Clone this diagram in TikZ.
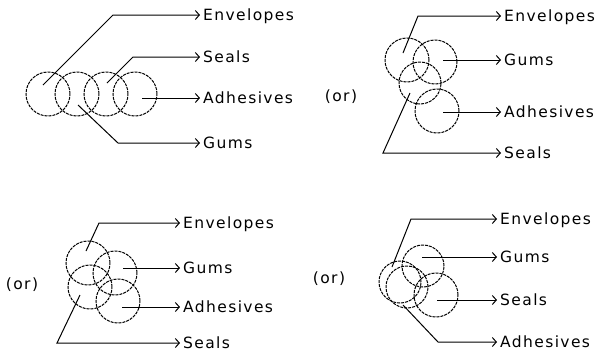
\documentclass[tikz,border=0pt]{standalone}
\usepackage{fontspec}
\setmainfont{DejaVu Sans}[LetterSpace=9]
\usetikzlibrary{arrows.meta}
\tikzset{
  ring/.style={draw, circle, minimum size=#1, inner sep=0pt, line width=1pt, dash pattern=on 3pt off 1pt},
  lbl/.style={anchor=west, inner xsep=3pt, inner ysep=0pt, text height=11.2pt, text depth=0pt, font=\fontsize{15.5}{18}\selectfont},
  orl/.style={inner sep=0pt, font=\fontsize{15.5}{18}\selectfont},
  lead/.style={draw, line width=1pt, -{Straight Barb[length=4pt,width=9pt,line width=1pt]}}
}
\begin{document}
\begin{tikzpicture}[x=1pt,y=-1pt]
\useasboundingbox (0,0) rectangle (600,354);
% ---------- panel 1 ----------
\node[ring=44pt] (a1) at (48,94) {};
\node[ring=44pt] (a2) at (77,94) {};
\node[ring=44pt] (a3) at (106,94) {};
\node[ring=44pt] (a4) at (135,94) {};
\node[lbl] (aE) at (200,15) {Envelopes};
\node[lbl] (aS) at (200,57) {Seals};
\node[lbl] (aA) at (200,98) {Adhesives};
\node[lbl] (aG) at (200,143) {Gums};
\coordinate (aEs) at (43,85);  \coordinate (aEb) at (113,15);
\coordinate (aSs) at (107,83); \coordinate (aSb) at (133,57);
\coordinate (aAs) at (142,98);
\coordinate (aGs) at (78,105); \coordinate (aGb) at (118,143);
\draw[lead] (aEs) -- (aEb) -- (aE.west);
\draw[lead] (aSs) -- (aSb) -- (aS.west);
\draw[lead] (aAs) -- (aA.west);
\draw[lead] (aGs) -- (aGb) -- (aG.west);
% ---------- panel 2 ----------
\node[orl] (bor) at (341,97) {(or)};
\node[ring=44pt] (b1) at (407,60) {};
\node[ring=44pt] (b2) at (435,62) {};
\node[ring=42pt] (b3) at (420,83) {};
\node[ring=44pt] (b4) at (437,111) {};
\node[lbl] (bE) at (501,16) {Envelopes};
\node[lbl] (bG) at (501,60) {Gums};
\node[lbl] (bA) at (501,112) {Adhesives};
\node[lbl] (bS) at (501,153) {Seals};
\coordinate (bEs) at (403,53); \coordinate (bEb) at (418,16);
\coordinate (bGs) at (443,60);
\coordinate (bAs) at (443,112);
\coordinate (bSs) at (410,93); \coordinate (bSb) at (383,153);
\draw[lead] (bEs) -- (bEb) -- (bE.west);
\draw[lead] (bGs) -- (bG.west);
\draw[lead] (bAs) -- (bA.west);
\draw[lead] (bSs) -- (bSb) -- (bS.west);
% ---------- panel 3 ----------
\node[orl] (cor) at (22,285) {(or)};
\node[ring=44pt] (c1) at (88,263) {};
\node[ring=44pt] (c2) at (115,273) {};
\node[ring=44pt] (c3) at (90,287) {};
\node[ring=44pt] (c4) at (118,301) {};
\node[lbl] (cE) at (180,223) {Envelopes};
\node[lbl] (cG) at (180,268) {Gums};
\node[lbl] (cA) at (180,307) {Adhesives};
\node[lbl] (cS) at (180,343) {Seals};
\coordinate (cEs) at (86,251); \coordinate (cEb) at (99,223);
\coordinate (cGs) at (123,268);
\coordinate (cAs) at (122,307);
\coordinate (cSs) at (80,295); \coordinate (cSb) at (57,343);
\draw[lead] (cEs) -- (cEb) -- (cE.west);
\draw[lead] (cGs) -- (cG.west);
\draw[lead] (cAs) -- (cA.west);
\draw[lead] (cSs) -- (cSb) -- (cS.west);
% ---------- panel 4 ----------
\node[orl] (dor) at (329,279) {(or)};
\node[ring=42pt] (d1) at (423,266) {};
\node[ring=44pt] (d2) at (436,295) {};
\node[ring=42pt] (d3) at (400,282) {};
\node[ring=42pt] (d4) at (407,287) {};
\node[lbl] (dE) at (497,219) {Envelopes};
\node[lbl] (dG) at (497,257) {Gums};
\node[lbl] (dS) at (497,300) {Seals};
\node[lbl] (dA) at (497,342) {Adhesives};
\coordinate (dEs) at (392,267); \coordinate (dEb) at (411,219);
\coordinate (dGs) at (422,257);
\coordinate (dSs) at (437,300);
\coordinate (dAs) at (403,305); \coordinate (dAb) at (438,342);
\draw[lead] (dEs) -- (dEb) -- (dE.west);
\draw[lead] (dGs) -- (dG.west);
\draw[lead] (dSs) -- (dS.west);
\draw[lead] (dAs) -- (dAb) -- (dA.west);
\end{tikzpicture}
\end{document}
